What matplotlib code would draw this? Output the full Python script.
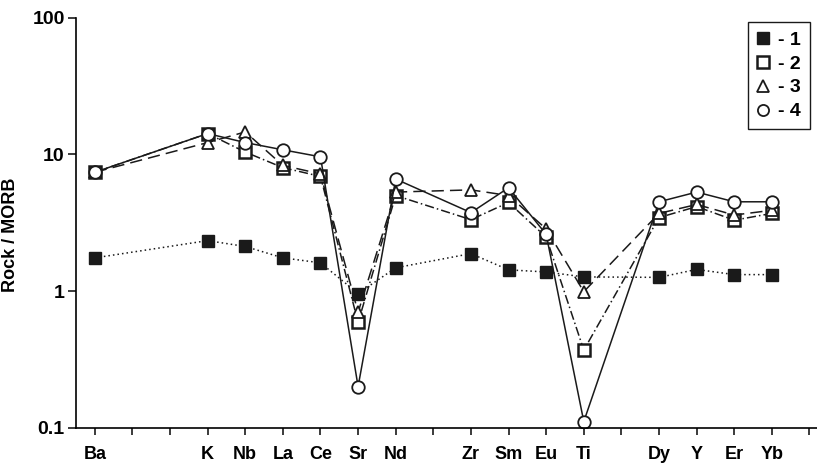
import matplotlib.pyplot as plt
import numpy as np

plt.rcParams['font.family'] = ['Liberation Sans', 'DejaVu Sans']
plt.rcParams['font.weight'] = 'bold'

# Element positions on an evenly ticked axis (gaps are empty ticks)
elements = ['Ba', 'K', 'Nb', 'La', 'Ce', 'Sr', 'Nd', 'Zr', 'Sm', 'Eu', 'Ti', 'Dy', 'Y', 'Er', 'Yb']
slots = [0, 3, 4, 5, 6, 7, 8, 10, 11, 12, 13, 15, 16, 17, 18]

# Rock / MORB values
s1 = [1.75, 2.34, 2.12, 1.75, 1.61, 0.96, 1.48, 1.88, 1.43, 1.38, 1.27, 1.26, 1.44, 1.32, 1.32]
s2 = [7.4, 14.2, 10.4, 8.0, 6.9, 0.59, 5.0, 3.33, 4.45, 2.48, 0.37, 3.45, 4.15, 3.3, 3.7]
s3 = [7.4, 12.2, 14.6, 8.3, 7.2, 0.70, 5.3, 5.5, 5.0, 2.85, 0.99, 3.7, 4.3, 3.6, 3.9]
s4 = [7.4, 14.2, 12.2, 10.8, 9.6, 0.20, 6.6, 3.75, 5.7, 2.6, 0.111, 4.5, 5.3, 4.5, 4.5]

fig = plt.figure(figsize=(8.17, 4.65), dpi=100)
ax = fig.add_axes([0.093, 0.080, 0.907, 0.882])

ink = '#1a1a1a'
ax.plot(slots, s1, linestyle=(0, (1, 2)), color=ink, lw=1.1, marker='s', ms=8,
        mfc=ink, mec=ink, label='- 1')
ax.plot(slots, s2, linestyle=(0, (6, 2, 1, 2)), color=ink, lw=1.1, marker='s', ms=8,
        mfc='white', mec=ink, mew=1.8, label='- 2')
ax.plot(slots, s3, linestyle=(0, (8, 4)), color=ink, lw=1.1, marker='^', ms=9,
        mfc='white', mec=ink, mew=1.3, label='- 3')
ax.plot(slots, s4, linestyle='-', color=ink, lw=1.1, marker='o', ms=9,
        mfc='white', mec=ink, mew=1.3, label='- 4')

ax.set_yscale('log')
ax.set_ylim(0.1, 100)
ax.set_xlim(-0.5, 19.2)
ax.set_yticks([0.1, 1, 10, 100])
ax.set_yticklabels(['0.1', '1', '10', '100'])
ax.yaxis.set_minor_locator(plt.NullLocator())
ax.set_xticks(range(20))
ax.set_xticklabels([elements[slots.index(i)] if i in slots else '' for i in range(20)])
ax.tick_params(axis='x', labelsize=13, length=5, width=1.2, color=ink, pad=8)
ax.tick_params(axis='y', labelsize=14, length=6, width=1.2, color=ink, pad=2)
for lab in ax.get_xticklabels() + ax.get_yticklabels():
    lab.set_fontweight('bold')

ax.spines['top'].set_visible(False)
ax.spines['right'].set_visible(False)
ax.spines['left'].set_linewidth(1.2)
ax.spines['bottom'].set_linewidth(1.2)

ax.set_ylabel('Rock / MORB', fontsize=13, fontweight='bold')
ax.yaxis.set_label_coords(-0.077, 0.47)

leg = ax.legend(loc='upper right', bbox_to_anchor=(1.003, 1.012), handlelength=0.7,
                handletextpad=0.4, borderpad=0.45, labelspacing=0.32, fancybox=False,
                edgecolor=ink, framealpha=1, prop={'weight': 'bold', 'size': 14})
for h in leg.legend_handles:
    h.set_linestyle('none')
    h.set_markersize(8)
leg.get_frame().set_linewidth(1.0)

fig.savefig('out.png', dpi=100)
